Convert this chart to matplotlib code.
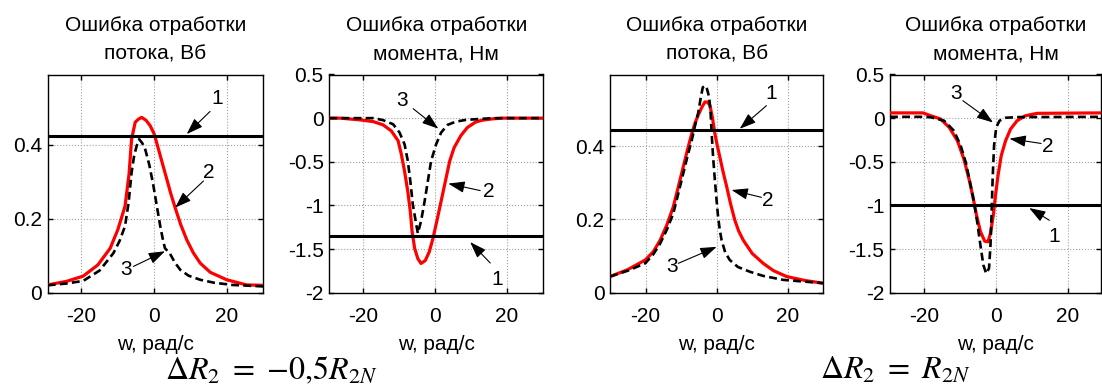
import matplotlib
matplotlib.use("Agg")
import matplotlib.pyplot as plt

plt.rcParams['font.family'] = ['Liberation Sans', 'DejaVu Sans']
plt.rcParams['axes.unicode_minus'] = False
plt.rcParams['mathtext.fontset'] = 'stix'

# ---------------- data ----------------
titles = ["Ошибка отработки\nпотока, Вб", "Ошибка отработки\nмомента, Нм",
          "Ошибка отработки\nпотока, Вб", "Ошибка отработки\nмомента, Нм"]
xlabel = "w, рад/с"
formulas = [r"$\Delta R_2\ =\ {-}0{,}5R_{2N}$", r"$\Delta R_2\ =\ R_{2N}$"]

# panel 1: flux error, dR2 = -0.5 R2N
p1_level = 0.425
p1_red_x = [-29.3, -24.0, -19.5, -15.5, -12.1, -10.0, -8.0, -6.9, -6.2, -5.2, -4.2, -3.4, -2.2, -1.1, 0.0, 0.7, 2.0, 3.5, 4.6, 5.8, 7.3, 9.0, 10.8, 12.7, 15.5, 20.0, 25.5, 30.0]
p1_red_y = [0.021, 0.031, 0.045, 0.075, 0.12, 0.17, 0.234, 0.32, 0.415, 0.461, 0.470, 0.474, 0.466, 0.452, 0.43, 0.406, 0.36, 0.307, 0.268, 0.23, 0.185, 0.143, 0.108, 0.08, 0.055, 0.035, 0.021, 0.02]
p1_blk_x = [-29.3, -24.0, -19.5, -15.0, -11.2, -9.5, -8.0, -7.0, -6.2, -5.5, -4.8, -4.1, -3.3, -2.5, -1.3, -0.2, 0.8, 1.7, 2.4, 3.0, 4.3, 5.7, 7.2, 9.5, 12.7, 16.5, 21.6, 30.0]
p1_blk_y = [0.02, 0.025, 0.032, 0.06, 0.107, 0.14, 0.18, 0.245, 0.325, 0.37, 0.397, 0.415, 0.405, 0.39, 0.345, 0.29, 0.232, 0.18, 0.145, 0.12, 0.107, 0.082, 0.062, 0.046, 0.035, 0.027, 0.021, 0.017]

# panel 2: torque error, dR2 = -0.5 R2N
p2_level = -1.35
p2_red_x = [-29.5, -26.5, -20.9, -17.2, -14.5, -12.2, -10.3, -9.4, -8.5, -7.6, -6.9, -6.4, -5.7, -4.8, -3.9, -2.7, -1.6, -0.6, 0.5, 1.7, 2.9, 4.1, 5.3, 7.2, 9.0, 11.3, 13.0, 16.0, 19.0, 30.2]
p2_red_y = [0.0, 0.0, -0.02, -0.04, -0.077, -0.146, -0.26, -0.415, -0.61, -0.84, -1.07, -1.3, -1.49, -1.61, -1.665, -1.63, -1.53, -1.38, -1.18, -0.95, -0.72, -0.49, -0.34, -0.20, -0.108, -0.045, -0.025, -0.008, 0.0, 0.0]
p2_blk_x = [-29.5, -17.2, -14.5, -11.7, -9.9, -8.5, -7.6, -6.9, -6.2, -5.4, -4.8, -3.9, -2.9, -2.0, -1.1, 0.3, 1.7, 3.5, 5.8, 8.6, 12.3, 16.0, 30.2]
p2_blk_y = [0.0, 0.0, -0.023, -0.07, -0.165, -0.30, -0.49, -0.72, -0.99, -1.18, -1.32, -1.18, -0.95, -0.72, -0.49, -0.30, -0.165, -0.077, -0.04, -0.02, -0.01, 0.0, 0.0]

# panel 3: flux error, dR2 = R2N
p3_level = 0.445
p3_red_x = [-30.0, -25.0, -20.1, -17.8, -15.9, -14.0, -12.2, -10.8, -9.4, -8.2, -7.0, -6.1, -5.2, -4.2, -3.3, -2.6, -1.9, -1.2, -0.5, 0.2, 0.9, 1.8, 2.8, 3.9, 5.1, 6.2, 7.5, 10.0, 13.1, 16.0, 19.7, 25.0, 29.9]
p3_red_y = [0.044, 0.063, 0.089, 0.112, 0.143, 0.185, 0.234, 0.288, 0.343, 0.39, 0.434, 0.462, 0.484, 0.505, 0.52, 0.52, 0.511, 0.478, 0.434, 0.40, 0.37, 0.33, 0.29, 0.243, 0.198, 0.168, 0.143, 0.107, 0.08, 0.06, 0.044, 0.033, 0.026]
p3_blk_x = [-30.0, -25.0, -20.1, -17.8, -15.9, -14.0, -12.2, -10.8, -9.4, -8.2, -7.0, -6.1, -5.2, -4.5, -3.9, -3.3, -2.7, -2.1, -1.7, -1.4, -1.0, -0.5, 0.0, 0.4, 0.9, 1.4, 2.4, 3.7, 6.0, 9.4, 13.0, 18.7, 25.0, 29.9]
p3_blk_y = [0.044, 0.06, 0.08, 0.105, 0.134, 0.172, 0.216, 0.27, 0.325, 0.372, 0.416, 0.455, 0.49, 0.53, 0.56, 0.565, 0.555, 0.533, 0.49, 0.434, 0.37, 0.307, 0.25, 0.207, 0.17, 0.143, 0.11, 0.089, 0.07, 0.057, 0.046, 0.035, 0.03, 0.026]

# panel 4: torque error, dR2 = R2N
p4_level = -1.0
p4_red_x = [-29.6, -20.4, -18.2, -15.5, -13.1, -10.8, -9.0, -7.6, -6.4, -5.5, -4.4, -3.2, -2.3, -1.6, -0.8, -0.2, 0.5, 1.4, 2.6, 4.0, 5.8, 8.1, 11.4, 29.2]
p4_red_y = [0.06, 0.06, 0.027, -0.01, -0.106, -0.26, -0.47, -0.695, -0.92, -1.11, -1.30, -1.41, -1.417, -1.32, -1.11, -0.885, -0.657, -0.43, -0.26, -0.125, -0.03, 0.027, 0.055, 0.06]
p4_blk_x = [-29.6, -20.4, -18.2, -14.5, -11.8, -9.9, -8.5, -7.3, -6.2, -5.3, -4.4, -3.6, -2.8, -2.0, -1.6, -1.3, -1.0, -0.6, 0.0, 0.9, 2.6, 5.8, 29.2]
p4_blk_y = [0.015, 0.015, 0.01, -0.03, -0.144, -0.315, -0.505, -0.733, -0.96, -1.19, -1.455, -1.68, -1.78, -1.72, -1.455, -1.11, -0.695, -0.315, -0.106, -0.03, 0.004, 0.012, 0.015]

# annotation labels: (text, text_x, text_y, tail_x, tail_y, head_x, head_y)
p1_notes = [("1", 17.3, 0.524, 15.4, 0.49, 9.0, 0.429),
            ("2", 15.0, 0.325, 13.6, 0.302, 5.8, 0.23),
            ("3", -7.7, 0.062, -5.7, 0.071, 3.0, 0.112)]
p2_notes = [("3", -9.3, 0.2, -6.1, 0.108, 0.9, -0.12),
            ("2", 14.9, -0.845, 12.6, -0.83, 3.7, -0.75),
            ("1", 17.2, -1.85, 15.4, -1.66, 9.8, -1.42)]
p3_notes = [("1", 15.4, 0.543, 14.0, 0.51, 6.5, 0.447),
            ("2", 14.5, 0.252, 12.6, 0.26, 4.2, 0.28),
            ("3", -12.6, 0.071, -10.8, 0.08, 0.0, 0.125)]
p4_notes = [("3", -11.1, 0.28, -9.3, 0.2, -0.9, -0.05),
            ("2", 14.3, -0.33, 12.5, -0.29, 3.7, -0.235),
            ("1", 16.2, -1.36, 14.8, -1.17, 9.2, -1.03)]

flux_yticks = [0, 0.2, 0.4]
flux_yticklabels = ["0", "0.2", "0.4"]
torque_yticks = [-2, -1.5, -1, -0.5, 0, 0.5]
torque_yticklabels = ["-2", "-1.5", "-1", "-0.5", "0", "0.5"]
xticks = [-20, 0, 20]
xticklabels = ["-20", "0", "20"]

panels = [
    dict(level=p1_level, rx=p1_red_x, ry=p1_red_y, bx=p1_blk_x, by=p1_blk_y, notes=p1_notes,
         xlim=(-29.3, 30.0), ylim=(0, 0.59), yt=flux_yticks, ytl=flux_yticklabels, left=47.7, right=263.0),
    dict(level=p2_level, rx=p2_red_x, ry=p2_red_y, bx=p2_blk_x, by=p2_blk_y, notes=p2_notes,
         xlim=(-29.5, 30.2), ylim=(-2, 0.5), yt=torque_yticks, ytl=torque_yticklabels, left=329.3, right=543.3),
    dict(level=p3_level, rx=p3_red_x, ry=p3_red_y, bx=p3_blk_x, by=p3_blk_y, notes=p3_notes,
         xlim=(-30.0, 30.0), ylim=(0, 0.595), yt=flux_yticks, ytl=flux_yticklabels, left=610.0, right=823.3),
    dict(level=p4_level, rx=p4_red_x, ry=p4_red_y, bx=p4_blk_x, by=p4_blk_y, notes=p4_notes,
         xlim=(-29.6, 29.2), ylim=(-2, 0.5), yt=torque_yticks, ytl=torque_yticklabels, left=890.0, right=1101.0),
]

W, H = 1102, 387
fig = plt.figure(figsize=(W / 100, H / 100), dpi=100)
FS = 15
top_px, bot_px = 74.5, 292.7

for i, p in enumerate(panels):
    ax = fig.add_axes([p['left'] / W, (H - bot_px) / H, (p['right'] - p['left']) / W, (bot_px - top_px) / H])
    ax.plot(p['rx'], p['ry'], color='#ff0000', lw=2.3, zorder=3, solid_joinstyle='round')
    ax.plot(p['bx'], p['by'], color='black', lw=1.9, ls=(0, (3, 1.6)), zorder=4)
    ax.axhline(p['level'], color='black', lw=2.2, zorder=5)
    for (t, tx, ty, ax0, ay0, hx, hy) in p['notes']:
        ax.annotate('', xy=(hx, hy), xytext=(ax0, ay0),
                    arrowprops=dict(arrowstyle='-|>,head_length=1.0,head_width=0.35',
                                    color='black', lw=0.8, shrinkA=0, shrinkB=0), zorder=6)
        ax.text(tx, ty, t, fontsize=FS, ha='center', va='center', zorder=6)
    ax.set_xlim(*p['xlim'])
    ax.set_ylim(*p['ylim'])
    ax.set_xticks(xticks)
    ax.set_xticklabels(xticklabels)
    ax.set_yticks(p['yt'])
    ax.set_yticklabels(p['ytl'])
    ax.tick_params(direction='in', top=True, right=True, labelsize=FS, length=3.5, width=1)
    ax.tick_params(axis='x', pad=10)
    ax.tick_params(axis='y', pad=4)
    ax.grid(True, color='#a0a0a0', ls=':', lw=0.8)
    for s in ax.spines.values():
        s.set_linewidth(1.0)
    ax.set_title(titles[i], fontsize=FS, pad=11, linespacing=1.6)
    ax.set_xlabel(xlabel, fontsize=FS, labelpad=7)

fig.text(165 / W, 1 - 371 / H, formulas[0], fontsize=23, ha='left', va='center')
fig.text(820 / W, 1 - 371 / H, formulas[1], fontsize=23, ha='left', va='center')

fig.savefig("out.png", dpi=100)
